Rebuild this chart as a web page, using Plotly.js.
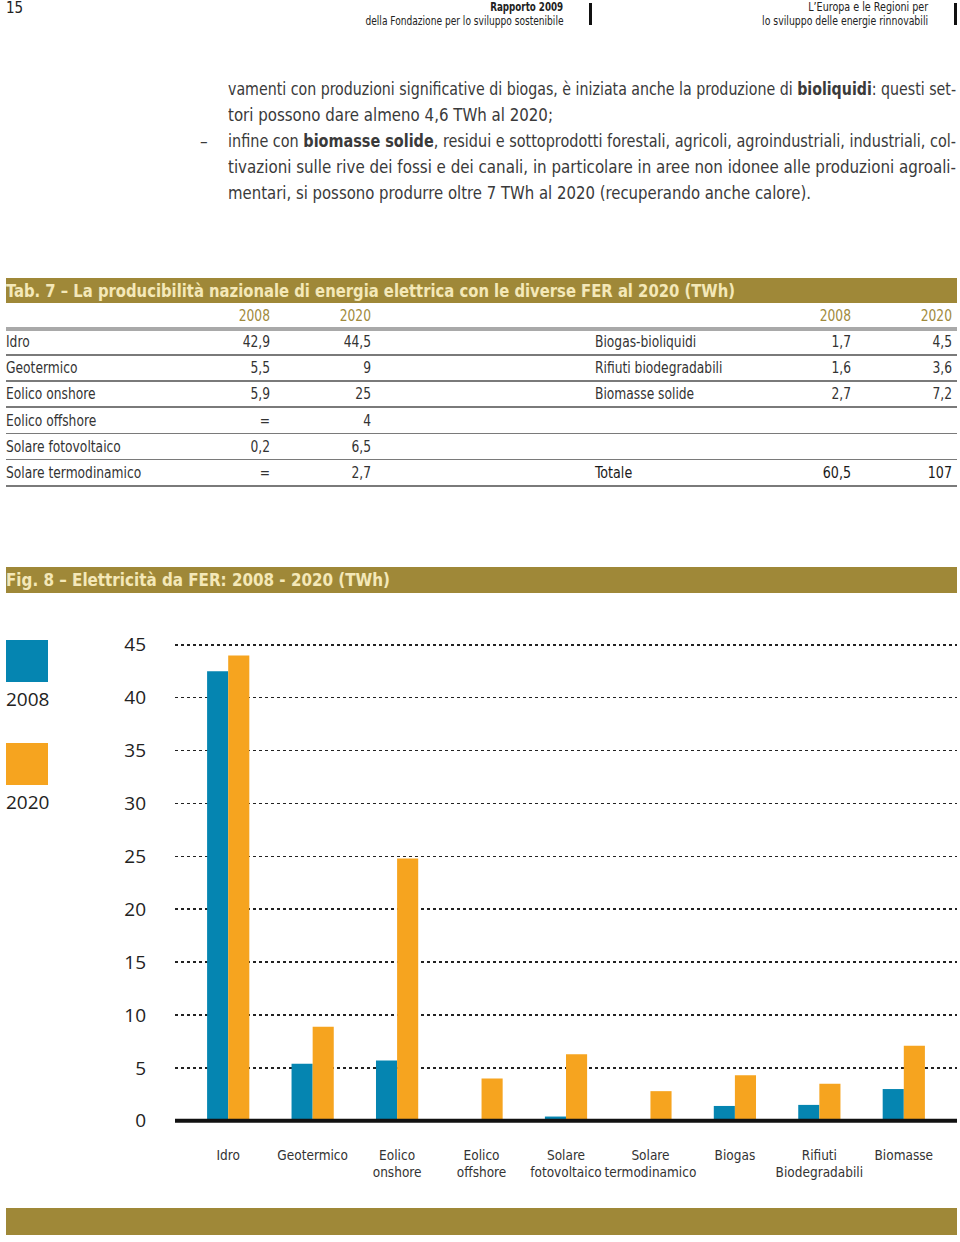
<!DOCTYPE html>
<html>
<head>
<meta charset="utf-8">
<script src="https://cdn.plot.ly/plotly-3.0.1.min.js"></script>
<style>
  body { margin: 0; background: #fff; }
  #page { position: relative; width: 960px; height: 1242px; overflow: hidden;
    font-family: "DejaVu Sans Condensed", "Liberation Sans", sans-serif; color: #333; }
  .abs { position: absolute; white-space: nowrap; }
  .hd { font-size: 12px; line-height: 14px; color: #222; }
  .bar { position: absolute; background: #111; }
  .para { position: absolute; left: 228px; font-size: 17px; line-height: 26px; height: 26px;
    color: #3a3a3a; white-space: nowrap; }
  .banner { position: absolute; left: 6px; width: 951px; background: #9f8838; }
  .btext { position: absolute; left: 6px; color: #f4e8b8; font-weight: bold; font-size: 18px; white-space: nowrap; }
  .cell { position: absolute; font-size: 15px; line-height: 20px; height: 20px; white-space: nowrap;
    transform: scaleX(0.91); transform-origin: left center; }
  .r { text-align: right; transform-origin: right center; }
  .rule { position: absolute; left: 6px; width: 951px; height: 1.5px; background: #7a7a7a; }
  .leg { position: absolute; left: 6px; font-family: "Open Sans", "DejaVu Sans", sans-serif; font-size: 19px; color: #222; }
</style>
</head>
<body>
<div id="page">
  <div class="abs" style="left:6px;top:0px;font-size:15px;line-height:16px;color:#222;">15</div>
  <div class="abs hd fit" data-w="73" data-o="right" style="right:397px;top:0px;font-weight:bold;">Rapporto 2009</div>
  <div class="abs hd fit" data-w="198" data-o="right" style="right:397px;top:14px;">della Fondazione per lo sviluppo sostenibile</div>
  <div class="bar" style="left:589px;top:3px;width:3px;height:22px;"></div>
  <div class="abs hd fit" data-w="120" data-o="right" style="right:32px;top:0px;">L’Europa e le Regioni per</div>
  <div class="abs hd fit" data-w="166" data-o="right" style="right:32px;top:14px;">lo sviluppo delle energie rinnovabili</div>
  <div class="bar" style="left:954px;top:3px;width:3px;height:22px;"></div>

  <div class="para fit" data-w="728" style="top:76px;">vamenti con produzioni significative di biogas, è iniziata anche la produzione di <b>bioliquidi</b>: questi set-</div>
  <div class="para fit" data-w="325" style="top:102px;">tori possono dare almeno 4,6 TWh al 2020;</div>
  <div class="abs" style="left:200px;top:128px;font-size:17px;line-height:26px;color:#3a3a3a;">–</div>
  <div class="para fit" data-w="728" style="top:128px;">infine con <b>biomasse solide</b>, residui e sottoprodotti forestali, agricoli, agroindustriali, industriali, col-</div>
  <div class="para fit" data-w="728" style="top:154px;">tivazioni sulle rive dei fossi e dei canali, in particolare in aree non idonee alle produzioni agroali-</div>
  <div class="para fit" data-w="583" style="top:180px;">mentari, si possono produrre oltre 7 TWh al 2020 (recuperando anche calore).</div>

  <div class="banner" style="top:278px;height:25px;"></div>
  <div class="btext fit" data-w="729" style="top:278px;line-height:25px;">Tab. 7 – La producibilità nazionale di energia elettrica con le diverse FER al 2020 (TWh)</div>
  <div id="tab"></div>

  <div class="banner" style="top:567px;height:26px;"></div>
  <div class="btext fit" data-w="384" style="top:567px;line-height:26px;">Fig. 8 – Elettricità da FER: 2008 - 2020 (TWh)</div>

  <div id="chart" style="position:absolute;left:0;top:600px;width:960px;height:620px;"></div>

  <div style="position:absolute;left:6px;top:640px;width:42px;height:42px;background:#0585b1;"></div>
  <div class="leg" style="top:686px;">2008</div>
  <div style="position:absolute;left:6px;top:743px;width:42px;height:42px;background:#f6a41f;"></div>
  <div class="leg" style="top:789px;">2020</div>

  <div class="banner" style="top:1208px;height:27px;"></div>
</div>

<script>
// Tab. 7 values
var tabLeftNames = ["Idro", "Geotermico", "Eolico onshore", "Eolico offshore", "Solare fotovoltaico", "Solare termodinamico"];
var tabLeft2008 = ["42,9", "5,5", "5,9", "=", "0,2", "="];
var tabLeft2020 = ["44,5", "9", "25", "4", "6,5", "2,7"];
var tabRightNames = ["Biogas-bioliquidi", "Rifiuti biodegradabili", "Biomasse solide", "", "", "Totale"];
var tabRight2008 = ["1,7", "1,6", "2,7", "", "", "60,5"];
var tabRight2020 = ["4,5", "3,6", "7,2", "", "", "107"];

// Fig. 8 values
var categories = ["Idro", "Geotermico", "Eolico<br>onshore", "Eolico<br>offshore", "Solare<br>fotovoltaico",
  "Solare<br>termodinamico", "Biogas", "Rifiuti<br>Biodegradabili", "Biomasse"];
var values2008 = [42.5, 5.4, 5.7, 0, 0.4, 0, 1.4, 1.5, 3.0];
var values2020 = [44.0, 8.9, 24.8, 4.0, 6.3, 2.8, 4.3, 3.5, 7.1];

// squeeze the text to the widths of the printed page
function fitTexts() {
  var els = document.querySelectorAll(".fit");
  els.forEach((el) => {
    var w = parseFloat(el.getAttribute("data-w"));
    var natural = el.getBoundingClientRect().width;
    el.style.transformOrigin = (el.getAttribute("data-o") || "left") + " center";
    el.style.transform = "scaleX(" + w / natural + ")";
  });
}

function cell(text, left, top, width, right, extra) {
  var d = document.createElement("div");
  d.className = "cell" + (right ? " r" : "");
  d.style.left = left + "px";
  d.style.top = top + "px";
  d.style.width = width + "px";
  if (extra) d.style.cssText += extra;
  d.textContent = text;
  document.getElementById("tab").appendChild(d);
}

function drawTable() {
  var gold = "color:#a08a3c;";
  cell("2008", 200, 306, 70, true, gold);
  cell("2020", 301, 306, 70, true, gold);
  cell("2008", 781, 306, 70, true, gold);
  cell("2020", 882, 306, 70, true, gold);
  var thick = document.createElement("div");
  thick.className = "rule";
  thick.style.cssText = "top:327px;height:4px;background:#a9a9a9;";
  document.getElementById("tab").appendChild(thick);

  for (var i = 0; i < tabLeftNames.length; i++) {
    var y = 332 + i * 26.2;
    var bold = tabRightNames[i] === "Totale" ? "color:#1a1a1a;font-size:15.5px;" : "";
    cell(tabLeftNames[i], 6, y, 200, false);
    cell(tabLeft2008[i], 200, y, 70, true);
    cell(tabLeft2020[i], 301, y, 70, true);
    cell(tabRightNames[i], 595, y, 200, false, bold);
    cell(tabRight2008[i], 781, y, 70, true, bold);
    cell(tabRight2020[i], 882, y, 70, true, bold);
    var line = document.createElement("div");
    line.className = "rule";
    line.style.top = (y + 22) + "px";
    document.getElementById("tab").appendChild(line);
  }
}

function plotChart() {
  var traces = [
    { x: categories, y: values2008, type: "bar", name: "2008", marker: { color: "#0585b1" }, hoverinfo: "skip" },
    { x: categories, y: values2020, type: "bar", name: "2020", marker: { color: "#f6a41f" }, hoverinfo: "skip" }
  ];
  var layout = {
    width: 960,
    height: 620,
    margin: { l: 175, r: 3, t: 30, b: 95 },
    paper_bgcolor: "rgba(0,0,0,0)",
    plot_bgcolor: "rgba(0,0,0,0)",
    showlegend: false,
    barmode: "group",
    bargap: 0.5,
    bargroupgap: 0,
    xaxis: {
      type: "category",
      range: [-0.63, 8.63],
      showgrid: false,
      zeroline: false,
      showline: false,
      ticks: "",
      tickangle: 0,
      ticklabelstandoff: 20,
      tickfont: { family: "DejaVu Sans Condensed, sans-serif", size: 13.5, color: "#333" }
    },
    yaxis: {
      range: [-0.4, 46.4],
      tickvals: [0, 5, 10, 15, 20, 25, 30, 35, 40, 45],
      showgrid: true,
      griddash: "dot",
      gridcolor: "#222",
      gridwidth: 1.6,
      zeroline: false,
      showline: false,
      ticks: "",
      ticklabelstandoff: 28,
      tickfont: { family: "Open Sans, DejaVu Sans, sans-serif", size: 19, color: "#222" }
    },
    shapes: [
      { type: "line", xref: "paper", yref: "y", x0: 0, x1: 1, y0: 0, y1: 0, layer: "above",
        line: { color: "#111", width: 4 } }
    ]
  };
  Plotly.newPlot("chart", traces, layout, { staticPlot: true });
}

drawTable();
fitTexts();
plotChart();
</script>
</body>
</html>
